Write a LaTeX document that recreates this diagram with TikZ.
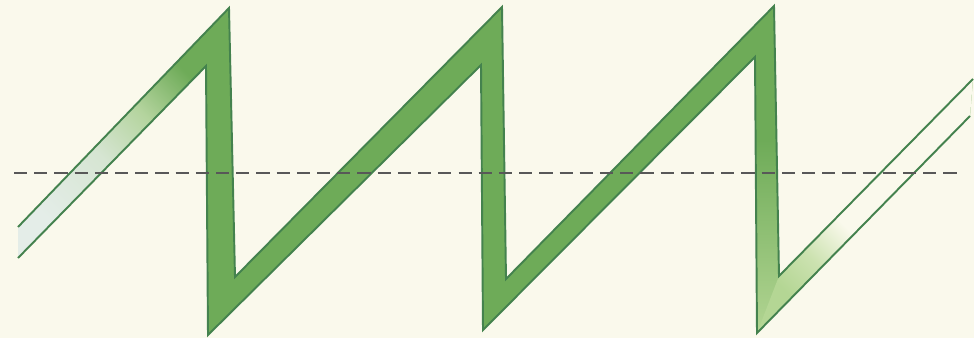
\documentclass[tikz,border=0pt]{standalone}
\usetikzlibrary{calc}
\definecolor{paper}{RGB}{250,249,236}
\definecolor{rib}{RGB}{110,171,88}
\definecolor{ribedge}{RGB}{68,130,78}
\definecolor{ribpale}{RGB}{228,237,232}
\definecolor{ribhaze}{RGB}{214,229,210}
\definecolor{riblight}{RGB}{180,212,158}
\definecolor{ribfade}{RGB}{180,214,148}
\definecolor{ribwash}{RGB}{204,226,176}
\definecolor{axisgray}{RGB}{88,88,88}
\pgfdeclarehorizontalshading{leftfade}{100bp}{color(0bp)=(ribpale); color(25bp)=(ribpale); color(43bp)=(ribhaze); color(56bp)=(riblight); color(69bp)=(rib); color(100bp)=(rib)}
\pgfdeclarehorizontalshading{rightfade}{100bp}{color(0bp)=(ribfade); color(25bp)=(ribfade); color(34bp)=(ribwash); color(44bp)=(paper); color(100bp)=(paper)}
\begin{document}
\begin{tikzpicture}[x=0.02cm, y=-0.02cm,
    ribline/.style={draw=ribedge, line width=1.1pt, line join=miter},
    zeroline/.style={axisgray, line width=0.7pt, dash pattern=on 7.5pt off 4pt},
  ]
  % BACKGROUND
  \fill[paper] (0,0) rectangle (974,338);
  \useasboundingbox (0,0) rectangle (974,338);
  % UPPER EDGE
  \coordinate (u0) at (18,227); \coordinate (u1) at (229,8);
  \coordinate (u2) at (235,277); \coordinate (u3) at (502,7);
  \coordinate (u4) at (506,279); \coordinate (u5) at (774,6);
  \coordinate (u6) at (779,276); \coordinate (u7) at (973,79);
  % LOWER EDGE
  \coordinate (l0) at (18,258); \coordinate (l1) at (206,66);
  \coordinate (l2) at (208,335); \coordinate (l3) at (481,65);
  \coordinate (l4) at (483,330); \coordinate (l5) at (755,57);
  \coordinate (l6) at (757,333); \coordinate (l7) at (970,116);
  % RIBBON FILL
  \begin{scope}
    \clip (u0) -- (u1) -- (u2) -- (u3) -- (u4) -- (u5) -- (u6) -- (u7)
      -- (l7) -- (l6) -- (l5) -- (l4) -- (l3) -- (l2) -- (l1) -- (l0) -- cycle;
    \fill[rib] (0,0) rectangle (974,338);
    \shade[shading=leftfade, shading angle=45] (u0) -- (u1) -- (l1) -- (l0) -- cycle;
    \shade[top color=rib, bottom color=ribfade] (740,140) rectangle (800,338);
    \shade[shading=rightfade, shading angle=45] (u6) -- (u7) -- (l7) -- (l6) -- cycle;
  \end{scope}
  % RIBBON EDGES
  \draw[ribline] (u0) -- (u1) -- (u2) -- (u3) -- (u4) -- (u5) -- (u6) -- (u7);
  \draw[ribline] (l0) -- (l1) -- (l2) -- (l3) -- (l4) -- (l5) -- (l6) -- (l7);
  % ZERO LINE
  \coordinate (z0) at (14,173); \coordinate (z1) at (958,173);
  \draw[zeroline] (z0) -- (z1);
\end{tikzpicture}
\end{document}
